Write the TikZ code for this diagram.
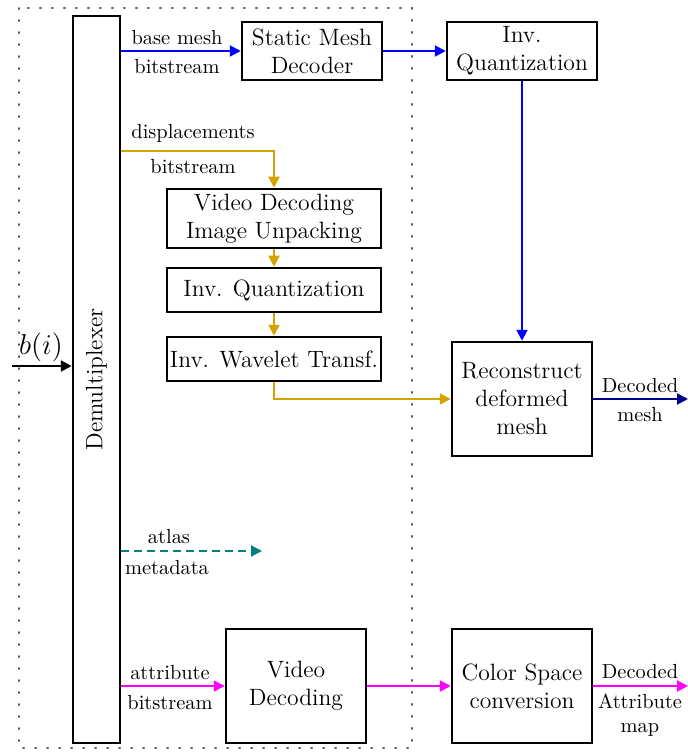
\documentclass[tikz,border=0pt]{standalone}
\usetikzlibrary{arrows.meta}
\definecolor{dispcol}{RGB}{212,163,0}
\definecolor{metacol}{RGB}{0,128,128}
\definecolor{outcol}{RGB}{0,0,140}
\definecolor{attrcol}{RGB}{255,0,255}
\definecolor{meshcol}{RGB}{0,0,255}
\begin{document}
\begin{tikzpicture}[x=0.5pt,y=-0.5pt,
  box/.style={draw=black, line width=1.25pt, fill=white, align=center, inner sep=1pt,
    font=\fontsize{11.8}{14}\selectfont},
  lbl/.style={font=\fontsize{10.2}{12}\selectfont, inner sep=0pt},
  flow/.style={line width=1pt, -{Triangle[length=5.5pt,width=5.5pt]}},
  frame/.style={line width=0.8pt, black!65, dash pattern=on 0.6pt off 5.4pt, line cap=round}]
\useasboundingbox (0,0) rectangle (688,753);

% decoder frame
\draw[frame] (19,8) rectangle (412,748);

% demultiplexer
\node[box, minimum width=23.5pt, minimum height=363.5pt] (demux) at (96.5,379.5) {};
\node[rotate=90, font=\fontsize{11.8}{14}\selectfont] at (demux.center) {Demultiplexer};

% geometry path
\node[box, minimum width=70pt, minimum height=29pt] (smd) at (312,51) {Static Mesh\\Decoder};
\node[box, minimum width=75pt, minimum height=29pt] (iq1) at (522,51) {Inv.\\Quantization};
\node[box, minimum width=107pt, minimum height=29.5pt] (vdu) at (274,218.5) {Video Decoding\\Image Unpacking};
\node[box, minimum width=107pt, minimum height=22pt] (iq2) at (274,290) {Inv. Quantization};
\node[box, minimum width=107pt, minimum height=22pt] (iwt) at (274,359) {Inv. Wavelet Transf.};
\node[box, minimum width=70pt, minimum height=57pt] (rec) at (522,399) {Reconstruct\\deformed\\mesh};

% attribute path
\node[box, minimum width=70pt, minimum height=57pt] (vd) at (296,686) {Video\\Decoding};
\node[box, minimum width=70pt, minimum height=57pt] (csc) at (522,686) {Color Space\\conversion};

% free ends
\coordinate (bin) at (12,366);
\coordinate (meshout) at (688,399);
\coordinate (mapout) at (688,686);
\coordinate (metaend) at (262,551);

% input
\draw[flow, black] (bin) -- (bin -| demux.west);
\node[font=\fontsize{15}{17}\selectfont, inner sep=0pt] (bi) at (41,347) {$b(i)$};

% base mesh
\draw[flow, meshcol] (demux.east |- smd.west) -- (smd.west);
\node[lbl] (l1) at (177,38) {base mesh};
\node[lbl] (l2) at (177,67) {bitstream};
\draw[flow, meshcol] (smd.east) -- (iq1.west);
\draw[flow, meshcol] (iq1.south) -- (rec.north);

% displacements
\draw[flow, dispcol] (demux.east |- 0,151) -| (vdu.north);
\node[lbl] (l3) at (193,133) {displacements};
\node[lbl] (l4) at (193,167) {bitstream};
\draw[flow, dispcol] (vdu.south) -- (iq2.north);
\draw[flow, dispcol] (iq2.south) -- (iwt.north);
\draw[flow, dispcol] (iwt.south) |- (rec.west);

% decoded mesh
\draw[flow, outcol] (rec.east) -- (meshout);
\node[lbl] (l5) at (640,386) {Decoded};
\node[lbl] (l6) at (640,415) {mesh};

% atlas metadata
\draw[flow, metacol, dash pattern=on 4pt off 2.5pt] (demux.east |- metaend) -- (metaend);
\node[lbl] (l7) at (169,537) {atlas};
\node[lbl] (l8) at (167,568) {metadata};

% attributes
\draw[flow, attrcol] (demux.east |- vd.west) -- (vd.west);
\node[lbl] (l9) at (170,673) {attribute};
\node[lbl] (l10) at (170,703) {bitstream};
\draw[flow, attrcol] (vd.east) -- (csc.west);
\draw[flow, attrcol] (csc.east) -- (mapout);
\node[lbl] (l11) at (640,672) {Decoded};
\node[lbl] (l12) at (640,701) {Attribute};
\node[lbl] (l13) at (640,730) {map};
\end{tikzpicture}
\end{document}
